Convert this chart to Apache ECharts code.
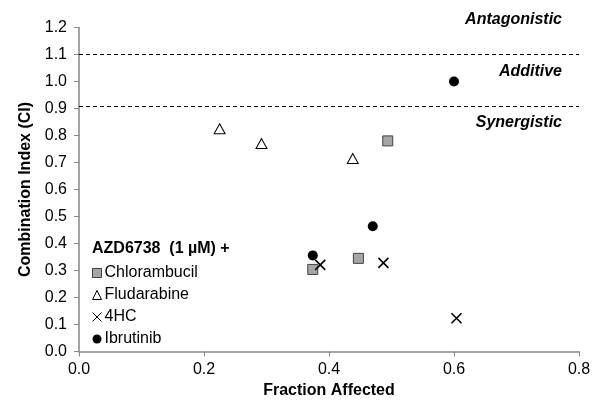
<!DOCTYPE html>
<html>
<head>
<meta charset="utf-8">
<script src="https://cdn.jsdelivr.net/npm/echarts@6/dist/echarts.min.js"></script>
<style>
  html, body { margin: 0; padding: 0; background: #fff; }
  #chart { width: 602px; height: 404px; }
</style>
</head>
<body>
<div id="chart"></div>
<script>
// data: [fraction affected, CI]
var chlorambucil = [[0.374, 0.304], [0.447, 0.345], [0.494, 0.78]];
var fludarabine = [[0.225, 0.825], [0.292, 0.77], [0.438, 0.715]];
var hc4 = [[0.386, 0.321], [0.487, 0.328], [0.604, 0.123]];
var ibrutinib = [[0.374, 0.356], [0.47, 0.464], [0.6, 1.0]];
var cutoffs = [1.1, 0.91];
var seriesNames = ['Chlorambucil', 'Fludarabine', '4HC', 'Ibrutinib'];

var font = 'Liberation Sans, Arial, sans-serif';
var axisGrey = '#868686';

var chart = echarts.init(document.getElementById('chart'));
var option = {
    backgroundColor: '#fff',
    textStyle: { fontFamily: font },
    grid: { left: 79, right: 23, top: 27.5, bottom: 52.5 },
    legend: {
        orient: 'vertical',
        left: 92,
        top: 265,
        padding: 0,
        itemGap: 6,
        itemWidth: 9,
        itemHeight: 9,
        itemStyle: { borderWidth: 1 },
        data: seriesNames,
        textStyle: { fontFamily: font, fontSize: 16, color: '#000', lineHeight: 16, padding: [0, 0, 0, -2] }
    },
    graphic: [
        { type: 'text', left: 92, top: 241, style: { text: 'AZD6738  (1 µM) +', font: 'bold 16px ' + font, fill: '#000' } },
        { type: 'text', right: 40, top: 12, style: { text: 'Antagonistic', font: 'italic bold 16px ' + font, fill: '#000' } },
        { type: 'text', right: 40, top: 64, style: { text: 'Additive', font: 'italic bold 16px ' + font, fill: '#000' } },
        { type: 'text', right: 40, top: 115, style: { text: 'Synergistic', font: 'italic bold 16px ' + font, fill: '#000' } }
    ],
    xAxis: {
        type: 'value',
        min: 0, max: 0.8, interval: 0.2,
        name: 'Fraction Affected',
        nameLocation: 'middle',
        nameGap: 31,
        nameTextStyle: { fontFamily: font, fontSize: 16, fontWeight: 'bold', color: '#000' },
        axisLine: { show: true, lineStyle: { color: axisGrey, width: 1.5 } },
        axisTick: { show: true, length: 5, lineStyle: { color: axisGrey } },
        axisLabel: { fontFamily: font, fontSize: 16, color: '#000', margin: 10, formatter: function (v) { return v.toFixed(1); } },
        splitLine: { show: false }
    },
    yAxis: {
        type: 'value',
        min: 0, max: 1.2, interval: 0.1,
        name: 'Combination Index (CI)',
        nameLocation: 'middle',
        nameGap: 42,
        nameTextStyle: { fontFamily: font, fontSize: 16, fontWeight: 'bold', color: '#000' },
        axisLine: { show: true, lineStyle: { color: axisGrey, width: 1.5 } },
        axisTick: { show: true, length: 5, lineStyle: { color: axisGrey } },
        axisLabel: { fontFamily: font, fontSize: 16, color: '#000', margin: 12, formatter: function (v) { return v.toFixed(1); } },
        splitLine: { show: false }
    },
    series: [
        {
            name: 'Chlorambucil',
            type: 'scatter',
            symbol: 'rect',
            symbolSize: 10,
            itemStyle: { color: '#a6a6a6', borderColor: '#404040', borderWidth: 1, opacity: 1 },
            data: chlorambucil,
            markLine: {
                silent: true,
                symbol: 'none',
                label: { show: false },
                lineStyle: { color: '#000', type: [4, 3], width: 1 },
                data: cutoffs.map(function (c) { return [{ coord: [0, c] }, { coord: [0.8, c] }]; })
            }
        },
        {
            name: 'Fludarabine',
            type: 'scatter',
            symbol: 'triangle',
            symbolSize: [11, 10],
            itemStyle: { color: '#fff', borderColor: '#000', borderWidth: 1, opacity: 1 },
            data: fludarabine
        },
        {
            name: '4HC',
            type: 'scatter',
            symbol: 'path://M0,0L10,10M0,10L10,0',
            symbolSize: 10,
            itemStyle: { color: 'rgba(0,0,0,0)', borderColor: '#000', borderWidth: 1.6, opacity: 1 },
            data: hc4
        },
        {
            name: 'Ibrutinib',
            type: 'scatter',
            symbol: 'circle',
            symbolSize: 10,
            itemStyle: { color: '#000', opacity: 1 },
            data: ibrutinib
        }
    ]
};
chart.setOption(option);
window.onresize = chart.resize;
</script>
</body>
</html>
